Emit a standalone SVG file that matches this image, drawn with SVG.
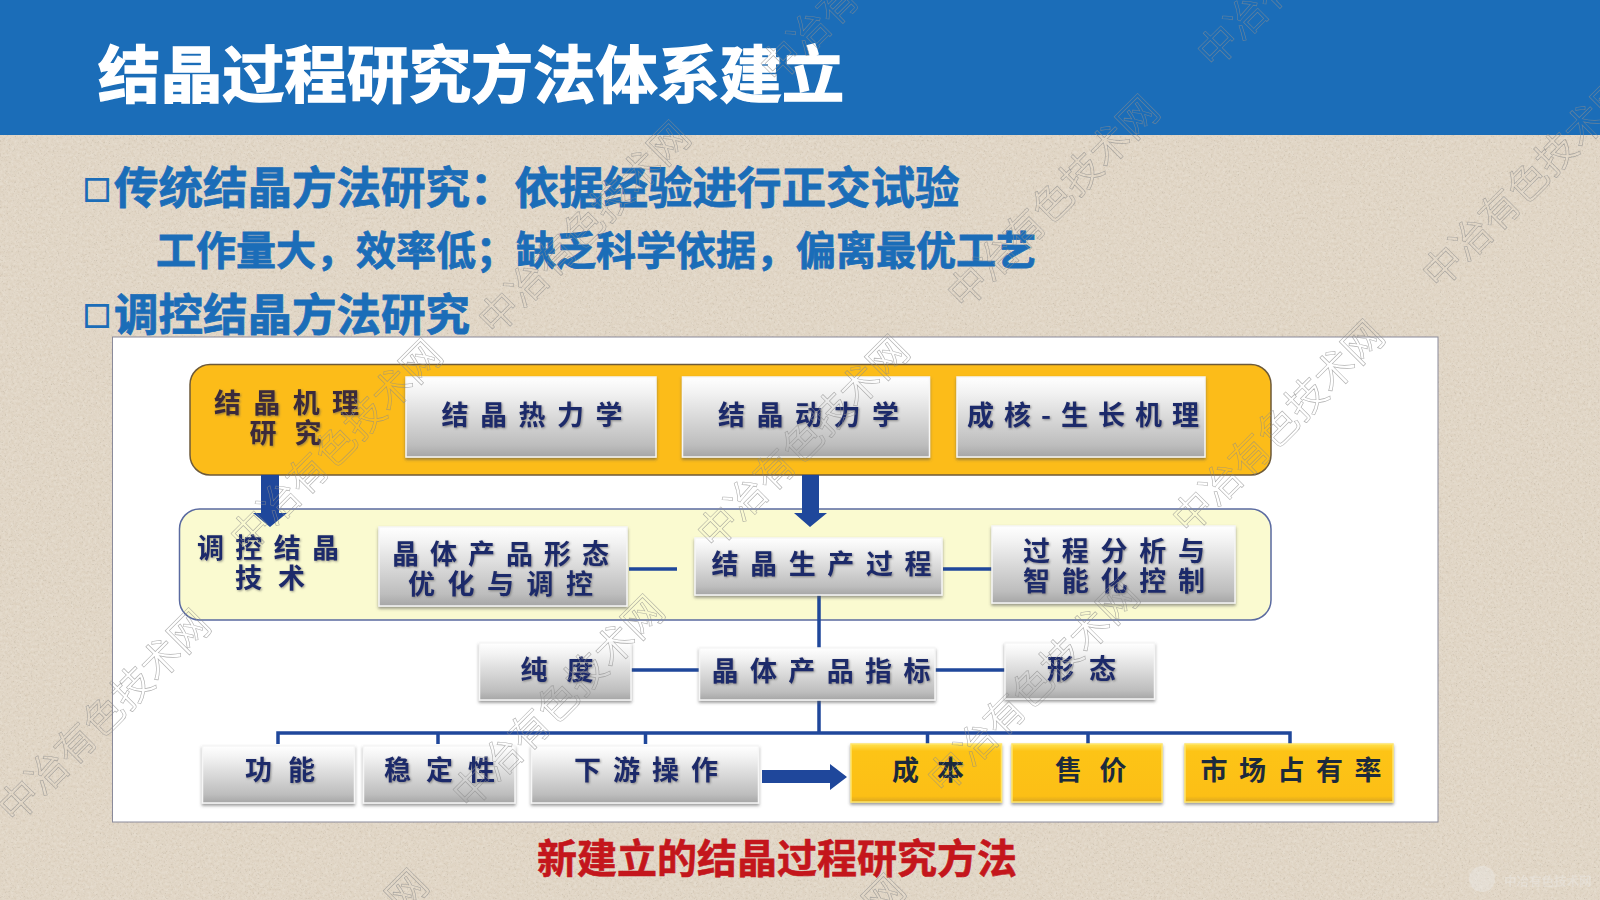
<svg xmlns="http://www.w3.org/2000/svg" width="1600" height="900" viewBox="0 0 1600 900">
<style>
text{font-family:"Noto Sans CJK SC","Noto Sans",sans-serif;font-weight:700}
.h{fill:#1b6db8;stroke:#1b6db8;stroke-width:.8}
.t{font-size:27px;fill:#1e2b6b;filter:url(#ts)}
.o{font-size:27px;fill:#3a2a3a;filter:url(#ts)}
.k{font-size:27px;fill:#1c2a3c}
.g{fill:url(#gray);stroke:#f6f6f6;stroke-width:1.5;filter:url(#ds)}
.y{fill:url(#gold);stroke:#ffe56a;stroke-width:1.5;filter:url(#ds)}
.c{fill:none;stroke:#1f479b;stroke-width:3.5}
.a{fill:#1f479b}
.w{font-size:40px;font-weight:400;fill:none;stroke:#8d8d8d;stroke-width:.6;opacity:.7}
</style>
<defs>
<linearGradient id="gray" x1="0" y1="0" x2="0" y2="1"><stop offset="0" stop-color="#ffffff"/><stop offset=".2" stop-color="#f2f2f2"/><stop offset=".85" stop-color="#bdbdbd"/><stop offset="1" stop-color="#a6a6a6"/></linearGradient>
<linearGradient id="gold" x1="0" y1="0" x2="0" y2="1"><stop offset="0" stop-color="#ffe14d"/><stop offset=".12" stop-color="#fdc418"/><stop offset=".9" stop-color="#fcbf16"/><stop offset="1" stop-color="#d9a520"/></linearGradient>
<filter id="paper" x="0" y="0" width="100%" height="100%"><feTurbulence type="fractalNoise" baseFrequency=".35" numOctaves="3" seed="7"/><feColorMatrix values="0 0 0 0 .83  0 0 0 0 .78  0 0 0 0 .69  .9 0 0 0 -.12"/><feComposite in2="SourceGraphic" operator="over"/></filter>
<filter id="speck" x="0" y="0" width="100%" height="100%"><feTurbulence type="fractalNoise" baseFrequency=".55" numOctaves="2" seed="21"/><feColorMatrix values="0 0 0 0 .52  0 0 0 0 .46  0 0 0 0 .37  3.5 0 0 0 -2.1"/></filter>
<filter id="ds" x="-5%" y="-10%" width="110%" height="125%"><feDropShadow dx="0" dy="2" stdDeviation="1.5" flood-color="#555" flood-opacity=".6"/></filter>
<filter id="ts" x="-5%" y="-15%" width="110%" height="135%"><feDropShadow dx="1" dy="1" stdDeviation="1" flood-color="#555" flood-opacity=".6"/></filter>
</defs>
<g id="background">
<rect width="1600" height="900" fill="#dccfbd" filter="url(#paper)"/>
<rect width="1600" height="900" filter="url(#speck)" opacity=".6"/>
<rect width="1600" height="135" fill="#1b6db8"/>
</g>
<g id="heading">
<text x="98" y="98" font-size="62.200" fill="#fff" stroke="#fff" stroke-width="1.400">结晶过程研究方法体系建立</text>
<text class="h" x="83" y="201" font-size="28" style="stroke-width:1.400">□</text>
<text class="h" x="114" y="204" font-size="44.500">传统结晶方法研究：依据经验进行正交试验</text>
<text class="h" x="156" y="265" font-size="40">工作量大，效率低；缺乏科学依据，偏离最优工艺</text>
<text class="h" x="83" y="327" font-size="28" style="stroke-width:1.400">□</text>
<text class="h" x="114" y="331" font-size="44.500">调控结晶方法研究</text>
</g>
<rect id="panel" x="112.500" y="337" width="1325.500" height="485" fill="#fff" stroke="#8a8a9a" stroke-width="1"/>
<g id="mechanism-band"><rect x="190" y="364.500" width="1081" height="110.500" rx="20" fill="#fcbc19" stroke="#6d5a3a" stroke-width="1.500"/>
<text class="o" x="214" y="413" textLength="145">结晶机理</text><text class="o" x="249.500" y="443" textLength="72">研究</text></g>
<g id="control-band"><rect x="179.500" y="509" width="1091.500" height="111" rx="20" fill="#fafad0" stroke="#5a6aa0" stroke-width="1.500"/>
<text class="t" x="197" y="558" textLength="142">调控结晶</text><text class="t" x="235" y="588" textLength="70">技术</text></g>
<g id="connectors">
<path class="a" d="M261 475H279V513H287L270 527L253 513H261Z"/>
<path class="a" d="M802 475H819V513H827L810 527L794 513H802Z"/>
<path class="c" d="M629 569H677M943 569H992M819 595V648M631 670H700M935 670H1005M819 699V733M278 744V733H1290V744M438 733V744M645.500 733V744M927.500 733V744M1088 733V744"/>
<path class="a" d="M762 770H830V764L847 777L830 790V783H762Z"/>
</g>
<g id="n1"><rect class="g" x="406" y="377" width="250" height="80"/><text class="t" x="441.500" y="425" textLength="181">结晶热力学</text></g>
<g id="n2"><rect class="g" x="682.500" y="377" width="247" height="80"/><text class="t" x="718" y="425" textLength="181">结晶动力学</text></g>
<g id="n3"><rect class="g" x="957" y="377" width="248" height="80"/><text class="t" x="967" y="425" textLength="232">成核-生长机理</text></g>
<g id="n4"><rect class="g" x="379" y="527" width="248" height="79"/><text class="t" x="392" y="564" textLength="217">晶体产品形态</text><text class="t" x="408" y="594" textLength="185">优化与调控</text></g>
<g id="n5"><rect class="g" x="695" y="538" width="247" height="57"/><text class="t" x="711.500" y="574" textLength="220">结晶生产过程</text></g>
<g id="n6"><rect class="g" x="992" y="526" width="243" height="77"/><text class="t" x="1023" y="561" textLength="182">过程分析与</text><text class="t" x="1023" y="591" textLength="182">智能化控制</text></g>
<g id="n7"><rect class="g" x="479.500" y="643" width="151.500" height="57"/><text class="t" x="520.500" y="680" textLength="73">纯度</text></g>
<g id="n8"><rect class="g" x="699.500" y="648" width="235.500" height="52"/><text class="t" x="711.500" y="681" textLength="219">晶体产品指标</text></g>
<g id="n9"><rect class="g" x="1005" y="643" width="149.500" height="56"/><text class="t" x="1047" y="679" textLength="69">形态</text></g>
<g id="n10"><rect class="g" x="202.500" y="746" width="152" height="57"/><text class="t" x="245" y="780" textLength="70">功能</text></g>
<g id="n11"><rect class="g" x="363.500" y="746" width="151.500" height="57"/><text class="t" x="384" y="780" textLength="111">稳定性</text></g>
<g id="n12"><rect class="g" x="531.500" y="746" width="227" height="57"/><text class="t" x="574" y="780" textLength="144">下游操作</text></g>
<g id="n13"><rect class="y" x="851" y="744" width="150.500" height="58"/><text class="k" x="892" y="780" textLength="72">成本</text></g>
<g id="n14"><rect class="y" x="1012" y="744" width="150" height="58"/><text class="k" x="1055" y="780" textLength="71.500">售价</text></g>
<g id="n15"><rect class="y" x="1185" y="744" width="208" height="58"/><text class="k" x="1200.500" y="780" textLength="181">市场占有率</text></g>
<text id="caption" x="537" y="873" font-size="40" fill="#c4161c" stroke="#c4161c" stroke-width=".6">新建立的结晶过程研究方法</text>
<g id="watermarks">
<text class="w" transform="translate(495 337) rotate(-45)">中冶有色技术网</text>
<text class="w" transform="translate(964 311) rotate(-45)">中冶有色技术网</text>
<text class="w" transform="translate(1439 291) rotate(-45)">中冶有色技术网</text>
<text class="w" transform="translate(714 551) rotate(-45)">中冶有色技术网</text>
<text class="w" transform="translate(1189 536) rotate(-45)">中冶有色技术网</text>
<text class="w" transform="translate(247 555) rotate(-45)">中冶有色技术网</text>
<text class="w" transform="translate(469 811) rotate(-45)">中冶有色技术网</text>
<text class="w" transform="translate(944 796) rotate(-45)">中冶有色技术网</text>
<text class="w" transform="translate(15 825) rotate(-45)">中冶有色技术网</text>
<text class="w" transform="translate(1214 70) rotate(-45)">中冶有色技术网</text>
<text class="w" transform="translate(777 85) rotate(-45)">中冶有色技术网</text>
<text class="w" transform="translate(233 1085) rotate(-45)">中冶有色技术网</text>
<text class="w" transform="translate(710 1090) rotate(-45)">中冶有色技术网</text>
</g>
<g id="logo" opacity=".35"><circle cx="1482" cy="879" r="13" fill="#eee"/><text x="1504" y="886" font-size="12.500" fill="#eee">中冶有色技术网</text></g>
</svg>
